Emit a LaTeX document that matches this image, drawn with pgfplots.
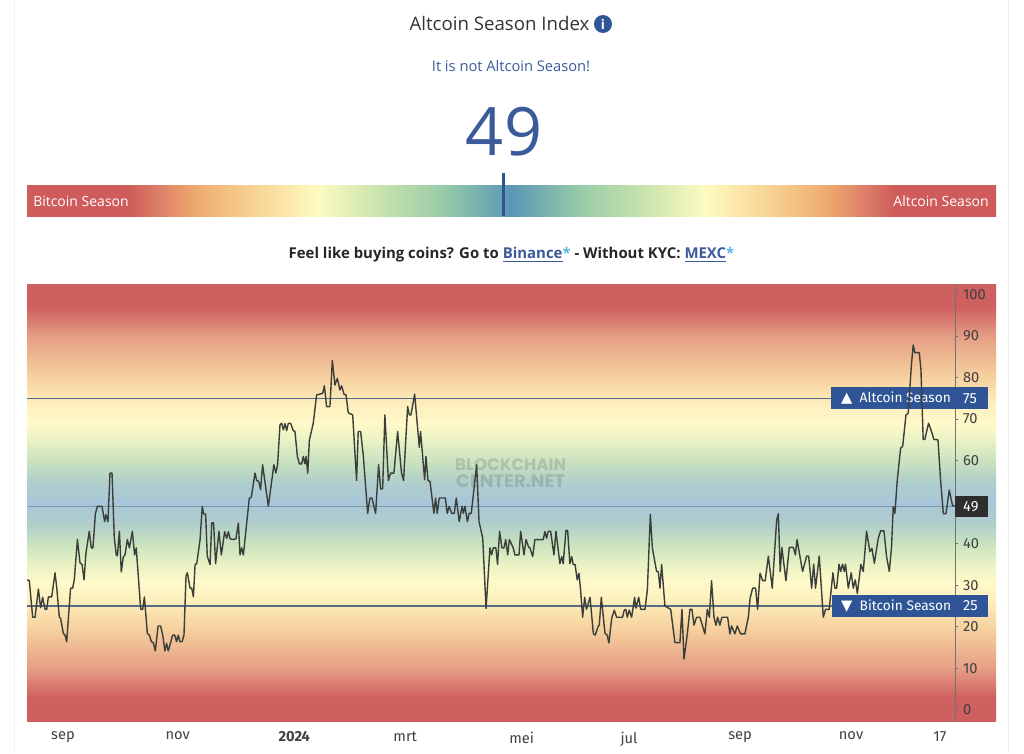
\documentclass[border=0pt]{standalone}
\usepackage{fontspec}
\usepackage{pgfplots}
\pgfplotsset{compat=1.18}
\setmainfont{Open Sans}
\newfontfamily\chartfont{Fira Sans}
\newfontfamily\symfont{DejaVu Sans}
\newfontfamily\markfont{Poppins}

\definecolor{brandblue}{HTML}{2F5597}
\definecolor{linkblue}{HTML}{3B5A9A}
\definecolor{starblue}{HTML}{5BB5E8}
\definecolor{inkdark}{HTML}{333333}
\definecolor{ticktext}{HTML}{404040}
\definecolor{levelline}{HTML}{566B85}
\definecolor{midline}{HTML}{7E95AE}
\definecolor{dataline}{HTML}{3A3F3A}

% gauge colours
\definecolor{gRed}{HTML}{CF5B5B}
\definecolor{gSalmon}{HTML}{DF8468}
\definecolor{gOrange}{HTML}{EFAE70}
\definecolor{gSand}{HTML}{F8D898}
\definecolor{gYellow}{HTML}{FDFBC0}
\definecolor{gLime}{HTML}{BFDFAA}
\definecolor{gGreen}{HTML}{98CBA8}
\definecolor{gBlue}{HTML}{5A97B5}
\pgfdeclarehorizontalshading{gauge}{100bp}{
  color(0bp)=(gRed); color(30.2bp)=(gRed); color(32bp)=(gSalmon); color(33.9bp)=(gOrange); color(37.1bp)=(gSand);
  color(40bp)=(gYellow); color(43.8bp)=(gLime); color(46.5bp)=(gGreen); color(50bp)=(gBlue);
  color(53.5bp)=(gGreen); color(56.2bp)=(gLime); color(60bp)=(gYellow); color(62.9bp)=(gSand);
  color(66.1bp)=(gOrange); color(68bp)=(gSalmon); color(69.8bp)=(gRed); color(100bp)=(gRed)}

% chart background colours
\definecolor{bRed}{HTML}{CF6060}
\definecolor{bSalmon}{HTML}{E59E84}
\definecolor{bSand}{HTML}{F7D3A0}
\definecolor{bCream}{HTML}{FDF0BE}
\definecolor{bYellow}{HTML}{FFF9C9}
\definecolor{bPale}{HTML}{E9F2C4}
\definecolor{bGreen}{HTML}{C9E2BF}
\definecolor{bTeal}{HTML}{B0CFCB}
\definecolor{bBlue}{HTML}{A9C5D9}
\pgfdeclareverticalshading{chartbg}{100bp}{
  color(0bp)=(bRed); color(27.7bp)=(bRed); color(31bp)=(bSalmon); color(35.8bp)=(bSand);
  color(38.9bp)=(bCream); color(41bp)=(bYellow); color(42.9bp)=(bPale); color(45.3bp)=(bGreen);
  color(47.6bp)=(bTeal); color(50bp)=(bBlue); color(52.4bp)=(bTeal); color(54.7bp)=(bGreen);
  color(57.1bp)=(bPale); color(59bp)=(bYellow); color(61.1bp)=(bCream); color(64.2bp)=(bSand);
  color(69bp)=(bSalmon); color(72.3bp)=(bRed); color(100bp)=(bRed)}

\begin{document}
\begin{tikzpicture}
\begin{scope}[x=0.75pt,y=-0.75pt]
\path[use as bounding box] (0,0) rectangle (1024,753);
\draw[black!6] (14,0) -- (14,753);
\draw[black!6] (1008,0) -- (1008,753);

\node[text=inkdark,inner sep=0pt] at (499.5,24) {\fontsize{14}{16}\selectfont Altcoin Season Index};
\fill[brandblue] (603,24) circle (9);
\node[text=white,inner sep=0pt] at (603,24) {\fontsize{10}{12}\selectfont\bfseries i};
\node[text=linkblue,inner sep=0pt] at (511,66) {\fontsize{11}{13}\selectfont It is not Altcoin Season!};
\node[text=linkblue,inner sep=0pt] at (504,132) {\fontsize{50}{60}\selectfont 49};

\shade[shading=gauge] (27,185) rectangle (996,216);
\draw[brandblue,line width=2.25pt] (503.5,173) -- (503.5,216);
\node[text=white,inner sep=0pt,anchor=west] at (33,201) {\fontsize{10.5}{13}\selectfont Bitcoin Season};
\node[text=white,inner sep=0pt,anchor=east] at (989,201) {\fontsize{10.5}{13}\selectfont Altcoin Season};

\node[text=black!85,inner sep=0pt] at (511.5,255) {\fontsize{11.2}{13}\selectfont\bfseries
  Feel like buying coins? Go to \textcolor{linkblue}{\underline{Binance}}\textcolor{starblue}{*}
  - Without KYC: \textcolor{linkblue}{\underline{MEXC}}\textcolor{starblue}{*}};

\shade[shading=chartbg] (27,284) rectangle (996,721);
\end{scope}

\begin{axis}[
  at={(20.25pt,-540.75pt)}, anchor=south west,
  scale only axis, width=696pt, height=327.75pt,
  xmin=-19.46, xmax=482.2, ymin=-2.67, ymax=102.5,
  clip=false,
  axis x line*=bottom, axis y line*=right,
  x axis line style={draw=none},
  y axis line style={draw=black!55,line width=0.5pt},
  xtick={0,62,125,185,248,306,366,426,474},
  xticklabels={sep,nov,\textbf{2024},mrt,mei,jul,sep,nov,17},
  ytick={0,10,20,30,40,60,70,80,90,100},
  xtick style={draw=none},
  ytick style={draw=black!55,line width=0.5pt},
  tick align=outside, major tick length=2.5pt,
  /pgf/number format/assume math mode=true,
  tick label style={font=\chartfont\fontsize{11}{13}\selectfont,text=ticktext},
  xticklabel style={yshift=-2pt},
]
\node[text=black,text opacity=0.13,inner sep=0pt] at (axis cs:242,59)
  {\markfont\bfseries\fontsize{12.5}{13}\selectfont BLOCKCHAIN};
\node[text=black,text opacity=0.13,inner sep=0pt] at (axis cs:242,55)
  {\markfont\bfseries\fontsize{13.6}{14}\selectfont CENTER.NET};

\addplot[levelline,line width=1pt,forget plot] coordinates {(-19.46,75)(415,75)};
\addplot[levelline,line width=1pt,forget plot] coordinates {(-19.46,25)(415.7,25)};
\addplot[midline,line width=0.6pt,forget plot] coordinates {(-19.46,49)(482.2,49)};

\fill[brandblue] (axis cs:415,77.7) rectangle (axis cs:500,72.3);
\fill[brandblue] (axis cs:415.7,27.7) rectangle (axis cs:500,22.4);
\fill[black!82] (axis cs:482.2,51.5) rectangle (axis cs:500,46.4);
\node[text=white,inner sep=0pt,anchor=west] at (axis cs:420.5,75)
  {\symfont\fontsize{11}{12}\selectfont ▲\chartfont\fontsize{10.3}{13}\selectfont\ \ Altcoin Season};
\node[text=white,inner sep=0pt,anchor=west] at (axis cs:420.5,25)
  {\symfont\fontsize{11}{12}\selectfont ▼\chartfont\fontsize{10.3}{13}\selectfont\ \ Bitcoin Season};
\node[text=white,inner sep=0pt,anchor=west] at (axis cs:486.5,75) {\chartfont\fontsize{11}{13}\selectfont 75};
\node[text=white,inner sep=0pt,anchor=west] at (axis cs:486.5,25) {\chartfont\fontsize{11}{13}\selectfont 25};
\node[text=white,inner sep=0pt,anchor=west] at (axis cs:486.5,49) {\chartfont\fontsize{11}{13}\selectfont 49};

\addplot[dataline,line width=1.05pt,line join=round] table {
-19.3 31.3
-18.2 31.1
-16.4 22.3
-15.1 22.3
-13.3 29.1
-12.1 24.6
-11 27.1
-9.7 24.2
-8.8 24.2
-7.9 27.2
-6.1 27.2
-4.3 33
-3.4 29.5
-2 22.4
-1.3 22
0.2 18.4
1.1 18
2 16.4
4.1 29.3
5.2 29.3
6.1 31.3
7.8 41
9.2 35.4
10.3 35
11.4 31.3
12.4 37.7
14.2 43
15.3 39
16.2 39
17.5 47.2
18.6 49
21.1 49
22.5 45.3
23.2 47
24.3 45.3
25.4 57
26.5 57
27.7 41.6
28.8 37.3
29.4 37.1
30.5 43
31.5 33.2
32.6 36.8
33.5 37.3
34.8 41
35.9 39
37.5 43
38.7 37.3
39.6 39
42 24.2
43.1 24.2
44 27.2
45.6 18.4
46.7 18
47.8 16.4
48.8 16.2
49.9 14.2
51.4 20.2
52.8 20.2
53.9 18
55.1 14.2
56 16
56.9 14.2
59.3 18
60.4 18
61.4 16.4
62.3 18
63.2 16.4
64.3 16.4
65.4 18
66.5 32.2
67.2 33
68.7 29.3
69.6 29.3
70.5 27.2
71.4 35
72.3 35.2
74.1 41
75.3 49
76 47.2
77.1 47.1
78 37
79.5 35
80.4 45
81.4 45
82.5 35.2
84.3 43
85.6 37.3
87.4 42.9
88.5 41.3
89.4 42.9
90.3 41.2
92.1 41
93.5 41.2
94.8 45
95.7 37.3
96.6 39
97.5 37.3
99.3 44.9
100.7 50.9
101.8 51.2
103.8 57
104.7 55.2
105.8 55
106.8 53
107.9 59
111 49
114 59
115.1 57
116 59
117.3 68.6
118.2 69
119.1 67.4
120 68.9
120.9 67.2
121.8 69
123 69
124.5 67.2
125.4 67
126.7 61
127.8 59.2
129 59.2
129.9 61
130.8 59.2
131.4 61
132.3 57
133.2 65
135.3 69
137.1 75.8
140.4 76.2
141.3 78
142.5 73
144.3 73
145.6 84.1
147 78.2
148.3 79.8
149.7 77
150.6 78
151.9 76
153 75.8
154.2 71.5
156.6 71
158.7 55.2
159.6 67
160.9 67
162.3 61.4
164.7 47.3
165.9 51
167 51
169 47.3
170.6 59
171.7 53.2
172.8 53.2
174 71
175.9 55.2
177.1 57
178.9 57
180.9 67
183 57
184.1 55.2
186.3 73
187.2 71
188.1 71
190.1 76
192.6 63.2
193.3 67
194.8 59
195.5 55.4
196.2 61
197.3 55.2
198.4 55
200.5 47.3
201.4 51
202.3 47.3
203.4 51
206.7 51
207.7 47.3
208.8 49
210.1 47.3
211.5 47.3
212.6 51
214.2 45.3
215.7 49
216.4 47.3
217.3 49
218.6 45.3
219.6 47.3
220.7 47.3
223.6 59
224.9 45.3
226.9 41.3
228.7 24.4
230.8 39
231.7 37.3
232.6 39
234 39
234.9 35
236 43
237.3 39
238.4 39
239.3 41
240.4 37.3
241.3 41
243.4 39
244.3 37.3
246.5 37.3
247.4 43
249.2 37.3
250.3 41
251.7 39.2
252.4 39
253.9 36.9
255.1 41
259.6 41
260.5 42.9
261.4 41.3
262.3 43
263.6 43
265.4 37.3
266.5 43
268.6 35.2
269.6 36.9
270.4 35.2
271.9 43.2
272.8 43.2
274 35.2
275 36.9
275.8 35
276.8 35
278 31.3
278.9 32.9
279.8 28.9
280.9 22.3
282 27.1
283 24.2
284.9 27.1
286.7 18.4
287.7 18
289.4 20.2
289.9 20.4
291 27.1
293 18.4
294.2 18
295.1 16.1
296.6 22
298 24
299.3 22.3
302.5 22.3
303.4 24
304.3 24.2
305 22.3
306.1 24
307.4 22.3
309 27.1
309.7 24.5
311.2 27.1
312.3 24.2
314.6 24.2
315.9 28.9
317.5 47.1
318.6 39
320.9 33.3
321.8 33.3
322.7 29.3
323.6 35
325.4 25
328.5 24.2
330.8 16.2
333.5 16.2
334.6 24.2
335.7 12.2
337.5 18.3
338.9 24.2
340 24.2
341.1 20.4
342.5 22.3
344.3 22.3
345.6 20.4
347 18.3
348.3 24.2
349.4 22.3
350.6 31.1
351.9 22.3
353 20.4
353.9 22.3
355.1 20.4
356.2 22.3
359.3 22.3
360.5 18.3
361.4 20.2
363.2 18.3
364.5 20.2
366.3 18.3
368.6 18.3
370.5 22.4
371.4 26.8
372.8 29.3
374.4 29.3
375.5 24.2
376.8 32.9
378.2 31.1
379.6 31.1
381.3 37
383.4 29.3
385.8 45.7
386.7 47.2
387.7 33.3
388.6 39.1
390.8 31.1
392.6 39.1
394.8 39.1
395.9 37.3
396.8 41
399.8 33.3
402 37
403.1 37
404.7 29.3
405.8 35.1
406.8 29.3
408.8 37
411 22.3
412.2 24.2
414.2 24.2
416.2 33
417.3 29.3
418.2 29.3
419.5 35.1
420.4 33.3
421.4 35.1
422.3 33.3
423 35.1
424.5 29.3
426.1 33
427.2 29.3
428.3 31.3
429.4 28
431.3 35
432.6 33.3
434.4 43
436.2 38.1
437.3 38.9
438.6 35.3
440.7 41.3
442 43.1
443.8 43.1
445.2 36.9
446.7 33.3
447.9 39.3
448.8 48.9
449.7 47.3
451 55.3
452.8 63
453.9 63.4
455.7 71
456.9 71.4
458.7 83.4
459.6 87.8
460.5 86
462.9 86
463.8 81.8
465 65.1
465.9 65.1
467.9 69
469.5 67
470.8 65.1
473 65
474.4 55.3
475.9 47.2
477.3 47.2
479.1 52.9
480.9 49.1
482 49.1
};
\end{axis}
\end{tikzpicture}
\end{document}
